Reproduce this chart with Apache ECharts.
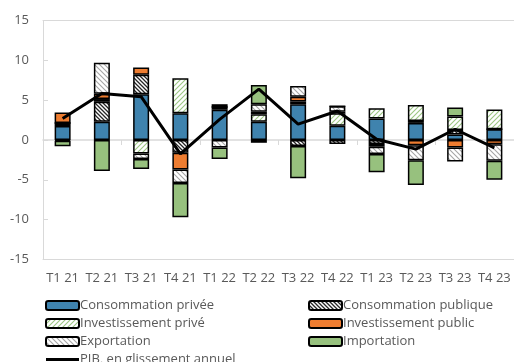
<!DOCTYPE html>
<html>
<head>
<meta charset="utf-8">
<script src="https://cdn.jsdelivr.net/npm/echarts@6/dist/echarts.min.js"></script>
<style>
  html, body { margin: 0; padding: 0; background: #fff; }
  #chart { width: 514px; height: 362px; }
</style>
</head>
<body>
<div id="chart"></div>
<script>
// Quarters
const categories = ['T1 21', 'T2 21', 'T3 21', 'T4 21', 'T1 22', 'T2 22', 'T3 22', 'T4 22', 'T1 23', 'T2 23', 'T3 23', 'T4 23'];

// Contributions to growth (points)
const consoPrivee    = [1.75, 2.3, 5.75, 3.35, 3.8, 2.3, 4.5, 1.8, 2.7, 2.15, 0.7, 1.35];
const consoPublique  = [0.4, 2.5, 2.45, -1.6, 0.35, -0.35, -0.75, -0.5, -0.5, 0.25, 0.55, 0];
const invPrive       = [0, 0.35, -1.7, 4.4, 0, 0.95, 0.35, 1.55, 1.3, 2.0, 1.7, 2.5];
const invPublic      = [1.3, 0.65, 0.9, -2.1, 0.35, 0.3, 0.6, 0.2, -0.35, -0.65, -0.95, -0.55];
const exportation    = [-0.1, 3.9, -0.7, -1.7, -0.95, 0.95, 1.35, 0.7, -0.9, -1.9, -1.75, -2.05];
const importation    = [-0.7, -3.9, -1.25, -4.3, -1.45, 2.4, -4.05, 0, -2.3, -3.1, 1.15, -2.4];

// GDP, year-on-year
const pib = [2.7, 5.85, 5.45, -1.75, 2.6, 6.4, 2.0, 3.65, 0.1, -1.15, 1.35, -1.0];

// Y axis ticks
const yTicks = [-15, -10, -5, 0, 5, 10, 15];

// Diagonal hatch fills
function hatch(lineColor, dir, size, lw) {
  const c = document.createElement('canvas');
  c.width = size; c.height = size;
  const g = c.getContext('2d');
  g.fillStyle = '#fff';
  g.fillRect(0, 0, size, size);
  g.strokeStyle = lineColor;
  g.lineWidth = lw;
  g.beginPath();
  if (dir === '\\') {
    g.moveTo(-1, -1); g.lineTo(size + 1, size + 1);
    g.moveTo(-1, size - 1); g.lineTo(1, size + 1);
    g.moveTo(size - 1, -1); g.lineTo(size + 1, 1);
  } else {
    g.moveTo(-1, size + 1); g.lineTo(size + 1, -1);
    g.moveTo(-1, 1); g.lineTo(1, -1);
    g.moveTo(size - 1, size + 1); g.lineTo(size + 1, size - 1);
  }
  g.stroke();
  return { image: c, repeat: 'repeat' };
}

const FONT = '"Open Sans", "Noto Sans", sans-serif';
const TEXT = '#595959';
const AXIS = '#d9d9d9';

const barBase = {
  type: 'bar',
  stack: 'contrib',
  barWidth: 16,
  xAxisIndex: 0,
  emphasis: { disabled: true }
};
function bar(name, data, color) {
  return Object.assign({}, barBase, {
    name: name,
    data: data,
    itemStyle: { color: color, borderColor: '#000', borderWidth: 1.5 }
  });
}

const chart = echarts.init(document.getElementById('chart'), null, { renderer: 'canvas' });

const legendCommon = {
  orient: 'vertical',
  itemWidth: 33,
  itemHeight: 9,
  itemGap: 5,
  height: 120,
  selectedMode: false,
  textStyle: { color: TEXT, fontSize: 13, fontFamily: FONT, padding: [0, 0, 0, -4] }
};

chart.setOption({
  animation: false,
  backgroundColor: '#fff',
  textStyle: { fontFamily: FONT },
  grid: { left: 43, right: 0, top: 20.7, bottom: 102.7, containLabel: false },
  legend: [
    Object.assign({}, legendCommon, {
      left: 40, top: 294,
      data: [
        'Consommation privée',
        'Investissement privé',
        'Exportation',
        { name: 'PIB, en glissement annuel', icon: 'path://M0,0 L33,0 L33,3 L0,3 Z', itemStyle: { color: '#000', borderWidth: 0 } }
      ]
    }),
    Object.assign({}, legendCommon, {
      left: 303, top: 294,
      data: ['Consommation publique', 'Investissement public', 'Importation']
    })
  ],
  xAxis: [
    {
      type: 'category',
      data: categories,
      position: 'bottom',
      axisLine: { onZero: false, lineStyle: { color: AXIS, width: 1 } },
      axisTick: { show: false },
      axisLabel: { color: TEXT, fontSize: 13, fontFamily: FONT, margin: 12, interval: 0 }
    },
    {
      type: 'category',
      data: categories,
      axisLine: { onZero: true, lineStyle: { color: AXIS, width: 1.5 } },
      axisTick: { show: true, inside: true, length: 5, lineStyle: { color: AXIS } },
      axisLabel: { show: false }
    },
    {
      type: 'category',
      data: categories,
      position: 'top',
      axisLine: { onZero: false, lineStyle: { color: AXIS, width: 1 } },
      axisTick: { show: false },
      axisLabel: { show: false }
    }
  ],
  yAxis: {
    type: 'value',
    min: yTicks[0],
    max: yTicks[yTicks.length - 1],
    interval: 5,
    axisLine: { show: true, lineStyle: { color: AXIS } },
    axisTick: { show: true, inside: true, length: 5, lineStyle: { color: AXIS } },
    splitLine: { show: false },
    axisLabel: { color: TEXT, fontSize: 13, fontFamily: FONT, margin: 14 }
  },
  series: [
    bar('Consommation privée', consoPrivee, '#3f83ae'),
    bar('Consommation publique', consoPublique, hatch('#262626', '\\', 4, 1.3)),
    bar('Investissement privé', invPrive, hatch('#9cc783', '/', 5, 1.1)),
    bar('Investissement public', invPublic, '#ee7d31'),
    bar('Exportation', exportation, hatch('#a6a6a6', '\\', 5, 1.1)),
    bar('Importation', importation, '#97c17e'),
    {
      name: 'PIB, en glissement annuel',
      type: 'line',
      data: pib,
      xAxisIndex: 0,
      symbol: 'none',
      z: 10,
      lineStyle: { color: '#000', width: 3 },
      itemStyle: { color: '#000' },
      emphasis: { disabled: true }
    }
  ]
});
</script>
</body>
</html>
